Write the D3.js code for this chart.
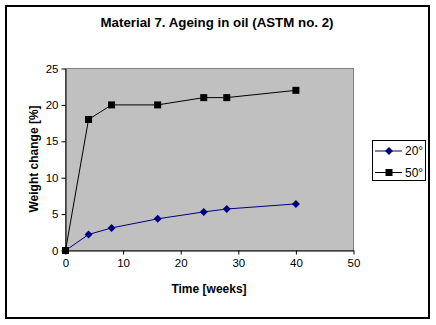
<!DOCTYPE html>
<html><head><meta charset="utf-8">
<script src="https://cdn.jsdelivr.net/npm/d3@7"></script>
<style>body{margin:0;background:#fff;}svg{display:block;font-family:"Liberation Sans",Arial,sans-serif;}</style>
</head><body>
<script>
const weeks = [0, 4, 8, 16, 24, 28, 40];
const series20 = [0, 2.2, 3.1, 4.35, 5.3, 5.7, 6.4];
const series50 = [0, 18, 20, 20, 21, 21, 22];
const seriesNames = ["20°", "50°"];
const xTicks = [0, 10, 20, 30, 40, 50];
const yTicks = [0, 5, 10, 15, 20, 25];
const title = "Material 7. Ageing in oil (ASTM no. 2)";
const xTitle = "Time [weeks]";
const yTitle = "Weight change [%]";

const W = 436, H = 325;
const svg = d3.select("body").append("svg").attr("width", W).attr("height", H);
svg.append("rect").attr("x", 6).attr("y", 6).attr("width", 423).attr("height", 312)
  .attr("fill", "#fff").attr("stroke", "#000").attr("stroke-width", 2);

const x = d3.scaleLinear().domain([0, 50]).range([65.5, 353.5]);
const y = d3.scaleLinear().domain([0, 25]).range([250.5, 68.5]);

svg.append("rect").attr("x", 65.5).attr("y", 68.5).attr("width", 288).attr("height", 182)
  .attr("fill", "#c0c0c0").attr("stroke", "#808080").attr("stroke-width", 1);

const xAxis = svg.append("g").attr("transform", "translate(0,250.5)")
  .call(d3.axisBottom(x).tickValues(xTicks).tickSize(4).tickSizeOuter(0).tickPadding(4));
const yAxis = svg.append("g").attr("transform", "translate(65.5,0)")
  .call(d3.axisLeft(y).tickValues(yTicks).tickSize(4).tickSizeOuter(0).tickPadding(3));
[xAxis, yAxis].forEach(a => {
  a.select(".domain").attr("stroke", "#000");
  a.selectAll(".tick line").attr("stroke", "#000");
  a.selectAll(".tick text").attr("fill", "#000").style("font-size", "11.5px")
   .style("font-family", '"Liberation Sans",Arial,sans-serif');
});

const line = d3.line().x(d => x(d[0])).y(d => y(d[1]));
const d20 = weeks.map((w, i) => [w, series20[i]]);
const d50 = weeks.map((w, i) => [w, series50[i]]);

svg.append("path").attr("d", line(d20)).attr("fill", "none").attr("stroke", "#000080").attr("stroke-width", 1);
svg.append("path").attr("d", line(d50)).attr("fill", "none").attr("stroke", "#000").attr("stroke-width", 1);

function drawDiamond(g, cx, cy) {
  g.append("path").attr("d", "M0,-4L4,0L0,4L-4,0Z").attr("transform", `translate(${cx},${cy})`).attr("fill", "#000080");
}
function drawSquare(g, cx, cy) {
  g.append("rect").attr("x", cx - 3.5).attr("y", cy - 3.5).attr("width", 7).attr("height", 7).attr("fill", "#000");
}
const mk = svg.append("g");
d20.forEach(d => drawDiamond(mk, x(d[0]), y(d[1])));
d50.forEach(d => drawSquare(mk, x(d[0]), y(d[1])));

svg.append("text").attr("x", 217).attr("y", 27).attr("text-anchor", "middle")
  .style("font-size", "13.3px").style("font-weight", "bold").text(title);
svg.append("text").attr("x", 209).attr("y", 293).attr("text-anchor", "middle")
  .style("font-size", "12px").style("font-weight", "bold").text(xTitle);
svg.append("text").attr("transform", "translate(38,159) rotate(-90)").attr("text-anchor", "middle")
  .style("font-size", "12px").style("font-weight", "bold").text(yTitle);

// legend
const lg = svg.append("g");
lg.append("rect").attr("x", 372.5).attr("y", 140.5).attr("width", 53).attr("height", 40)
  .attr("fill", "#fff").attr("stroke", "#000");
const lc = ["#000080", "#000"];
seriesNames.forEach((n, i) => {
  const ly = 151 + i * 21.5;
  lg.append("line").attr("x1", 375).attr("x2", 402).attr("y1", ly).attr("y2", ly).attr("stroke", lc[i]);
  if (i === 0) drawDiamond(lg, 389, ly); else drawSquare(lg, 389, ly);
  lg.append("text").attr("x", 405).attr("y", ly + 4).style("font-size", "12px").text(n);
});
</script>
</body></html>
